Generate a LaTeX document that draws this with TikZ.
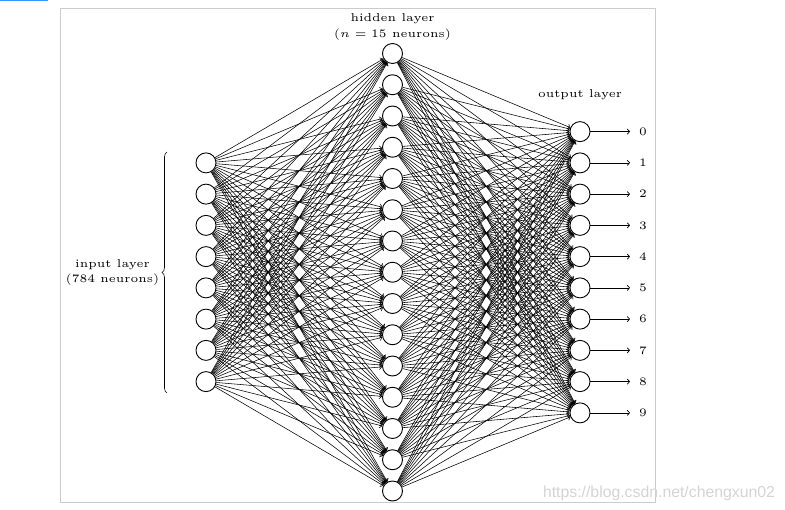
\documentclass[tikz,border=0pt]{standalone}
\usepackage{graphicx}
\usepackage{fontspec}
\newfontfamily\wmfont{Liberation Sans}
\usetikzlibrary{arrows.meta,decorations.pathreplacing}
\definecolor{framegray}{RGB}{204,204,204}
\definecolor{csdnblue}{RGB}{51,153,255}
\definecolor{wmgray}{RGB}{212,212,212}
\newcommand{\smtxt}[1]{\scalebox{2.28}{\fontsize{5}{6}\selectfont #1}}
\begin{document}
\begin{tikzpicture}[x=1pt,y=-1pt,
  neuron/.style={circle,draw,fill=white,minimum size=20pt,inner sep=0pt,line width=0.9pt},
  conn/.style={line width=0.55pt,-{To[length=3pt,width=5.5pt]}},
  lbl/.style={inner sep=0pt}]
\useasboundingbox (0,0) rectangle (785,510);
\draw[csdnblue,line width=1.5pt] (0,0.75) -- (48,0.75);
\draw[framegray,line width=1pt] (60.5,8.5) rectangle (655.5,502.5);
\foreach \i in {1,...,8} \node[neuron] (I\i) at (206,{272.25+(\i-4.5)*31.25}) {};
\foreach \j in {1,...,15} \node[neuron] (H\j) at (392.5,{272.25+(\j-8)*31.25}) {};
\foreach \k in {0,...,9} \node[neuron] (O\k) at (580,{272.25+(\k-4.5)*31.25}) {};
\foreach \i in {1,...,8} \foreach \j in {1,...,15} \draw[conn] (I\i) -- (H\j);
\foreach \j in {1,...,15} \foreach \k in {0,...,9} \draw[conn] (H\j) -- (O\k);
\foreach \k in {0,...,9} {
  \coordinate (E\k) at (630,{272.25+(\k-4.5)*31.25});
  \draw[conn] (O\k) -- (E\k);
  \node[lbl] (D\k) at (643,{272.25+(\k-4.5)*31.25}) {\smtxt{\k}};
}
\node[lbl] (hl1) at (392.5,19) {\smtxt{hidden layer}};
\node[lbl] (hl2) at (392.5,35) {\smtxt{($n=15$ neurons)}};
\node[lbl] (ol) at (580,95) {\smtxt{output layer}};
\node[lbl] (il1) at (112.5,265) {\smtxt{input layer}};
\node[lbl] (il2) at (112.5,280) {\smtxt{(784 neurons)}};
\coordinate (bt) at (167,393);
\coordinate (bb) at (167,152);
\draw[decorate,decoration={brace,amplitude=5pt},line width=0.6pt] (bt) -- (bb);
\node[text=wmgray,font=\wmfont\fontsize{15.8}{18}\selectfont,inner sep=0pt] (wm) at (659,493) {https://blog.csdn.net/chengxun02};
\end{tikzpicture}
\end{document}
